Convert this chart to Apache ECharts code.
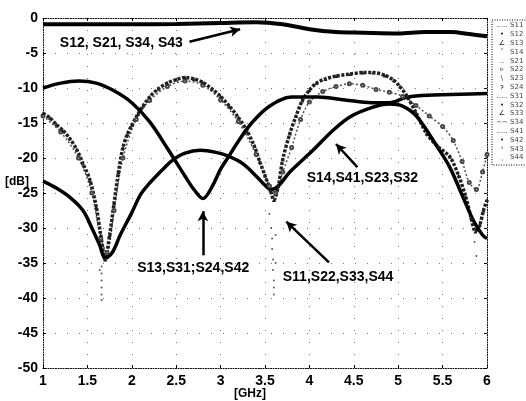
<!DOCTYPE html>
<html>
<head>
<meta charset="utf-8">
<script src="https://cdn.jsdelivr.net/npm/echarts@6/dist/echarts.min.js"></script>
<style>
html, body { margin: 0; padding: 0; background: #fff; }
#chart { width: 526px; height: 401px; }
</style>
</head>
<body>
<div id="chart"></div>
<script>
// S12, S21, S34, S43
var s12Freq = [1, 1.5, 2, 2.5, 3, 3.4, 3.7, 4.0, 4.3, 4.6, 5.0, 5.3, 5.6, 5.8, 6];
var s12Db = [-0.9, -0.9, -0.9, -0.85, -0.7, -0.6, -0.9, -1.6, -2.0, -2.1, -2.2, -2.0, -2.0, -2.3, -2.6];

// S13, S31, S24, S42
var s13Freq = [1, 1.2, 1.4, 1.6, 1.8, 2.0, 2.2, 2.4, 2.6, 2.7, 2.8, 2.9, 3.0, 3.1, 3.2, 3.35, 3.55, 3.8, 4.1, 4.4, 4.7, 4.9, 5.1, 5.4, 5.7, 6];
var s13Db = [-10.0, -9.3, -9.0, -9.3, -10.4, -12.1, -14.8, -18.6, -22.6, -24.5, -25.8, -24.2, -21.6, -19.6, -17.6, -15.0, -12.6, -11.3, -11.3, -11.7, -12.1, -12.1, -11.3, -11.0, -10.9, -10.8];

// S14, S41, S23, S32
var s14Freq = [1, 1.15, 1.3, 1.45, 1.55, 1.64, 1.7, 1.78, 1.87, 2.0, 2.1, 2.2, 2.35, 2.46, 2.6, 2.77, 2.95, 3.1, 3.25, 3.41, 3.5, 3.57, 3.65, 3.78, 4.04, 4.27, 4.46, 4.7, 4.9, 5.05, 5.21, 5.44, 5.58, 5.73, 5.85, 5.95, 6];
var s14Db = [-23.3, -24.3, -25.6, -27.5, -30, -32.5, -34.3, -33.5, -31, -27.8, -25.2, -23.6, -21.6, -20.3, -19.3, -18.9, -19.2, -19.8, -20.8, -22.7, -23.9, -24.5, -24, -22, -18.9, -16, -14.1, -12.8, -12.3, -12.6, -14.1, -18.4, -21.3, -25.6, -29, -31, -31.5];

// S11, S22, S33, S44 (gemessen, verrauscht)
var s11Freq = [1, 1.08, 1.15, 1.22, 1.3, 1.38, 1.45, 1.53, 1.6, 1.65, 1.7, 1.75, 1.8, 1.85, 1.9, 1.95, 2.0, 2.07, 2.13, 2.2, 2.3, 2.4, 2.5, 2.6, 2.7, 2.8, 2.9, 3.0, 3.1, 3.2, 3.3, 3.38, 3.44, 3.5, 3.56, 3.6, 3.65, 3.7, 3.78, 3.85, 3.92, 4.0, 4.08, 4.18, 4.3, 4.46, 4.6, 4.72, 4.85, 4.95, 5.02, 5.1, 5.2, 5.32, 5.45, 5.58, 5.68, 5.76, 5.82, 5.87, 5.92, 5.96, 6];
var s11Db = [-13.6, -14.3, -15.2, -16.0, -17.2, -18.8, -20.8, -23.2, -27, -31, -34.5, -31, -26.5, -22, -18.5, -16.6, -15.3, -13.7, -12.5, -11.3, -10.1, -9.3, -8.8, -8.5, -8.7, -9.2, -10.1, -11.2, -12.6, -14.2, -16.2, -18.3, -20.5, -22.5, -24.6, -26, -24, -20.2, -16.5, -14, -11.8, -10.3, -9.3, -8.7, -8.3, -8.0, -7.8, -7.8, -8.2, -8.9, -9.8, -11.2, -13.5, -16.5, -18.4, -19.8, -22.5, -25.5, -28.5, -30.5, -29.5, -27.5, -26];

var s22Freq = [1, 1.2, 1.4, 1.55, 1.65, 1.72, 1.8, 1.9, 2.05, 2.2, 2.4, 2.6, 2.8, 3.0, 3.2, 3.4, 3.55, 3.62, 3.7, 3.8, 3.9, 4.0, 4.15, 4.3, 4.45, 4.6, 4.75, 4.9, 5.05, 5.2, 5.35, 5.5, 5.62, 5.72, 5.8, 5.88, 5.95, 6];
var s22Db = [-14, -16.3, -20, -25, -31.5, -33.5, -27.5, -20, -14.5, -11.8, -9.8, -9.0, -9.6, -11.7, -14.8, -19.5, -24, -25, -22, -18.5, -14.5, -12, -10.5, -9.8, -9.4, -9.6, -10.2, -10.6, -11.2, -12.5, -14.0, -15.5, -17.5, -20.5, -23.5, -24.5, -22, -19.5];

// Ausreisser nach unten
var spikeFreq = [1.64, 1.66, 1.66, 1.66, 1.66, 1.66, 1.66, 3.55, 3.57, 3.58, 3.58, 3.59, 3.59, 3.6, 3.6, 3.6, 3.62, 3.62, 5.86, 5.88];
var spikeDb = [-36, -35.5, -36.5, -37.5, -38.5, -39.5, -40.3, -28, -30, -31.5, -33, -34.5, -36, -37.5, -38.5, -39.5, -31, -35, -32, -34];

var legendNames = ['S11', 'S12', 'S13', 'S14', 'S21', 'S22', 'S23', 'S24', 'S31', 'S32', 'S33', 'S34', 'S41', 'S42', 'S43', 'S44'];
var legendMarks = ['.....', '•', '∠', 'ˇ', '..', '▹', '\\', 'ɂ', '.....', '•', '∠', '~~', '.....', '•', 'ᵌ', 'ˏ'];

var noteText = ['S12, S21, S34, S43', 'S13,S31;S24,S42', 'S11,S22,S33,S44', 'S14,S41,S23,S32'];
var noteFreq = [1.19, 2.06, 3.70, 3.97];
var noteDb = [-3.6, -35.7, -37.0, -22.9];
var arrowFrom = [[2.65, -3.4], [2.80, -33.9], [4.22, -34.9], [4.54, -21.3]];
var arrowTo = [[3.22, -1.6], [2.80, -27.6], [3.74, -29.1], [4.30, -18.0]];

function zip(xs, ys) {
	var out = [];
	for (var i = 0; i < xs.length; ++i) out.push([xs[i], ys[i]]);
	return out;
}

var tickFont = '"Liberation Sans Narrow", "Liberation Sans", sans-serif';
var frameLine = { color: '#000', width: 1, type: [1, 1.5] };
var gridLine = { color: '#777', width: 1, type: [1, 11] };

var arrows = [];
for (var i = 0; i < arrowFrom.length; ++i) {
	arrows.push([{ coord: arrowFrom[i] }, { coord: arrowTo[i] }]);
}

var option = {
	animation: false,
	backgroundColor: '#fff',
	grid: { left: 43, right: 39, top: 18, bottom: 33 },
	xAxis: [{
		type: 'value', min: 1, max: 6, interval: 0.5, position: 'bottom',
		axisLine: { show: true, onZero: false, lineStyle: frameLine },
		axisTick: { show: true, inside: true, length: 3, lineStyle: { color: '#000' } },
		axisLabel: { color: '#000', fontFamily: tickFont, fontWeight: 'bold', fontSize: 14, margin: 6 },
		splitLine: { show: true, lineStyle: gridLine }
	}, {
		type: 'value', min: 1, max: 6, interval: 0.5, position: 'top',
		axisLine: { show: true, onZero: false, lineStyle: frameLine },
		axisTick: { show: true, inside: true, length: 3, lineStyle: { color: '#000' } },
		axisLabel: { show: false }, splitLine: { show: false }
	}],
	yAxis: [{
		type: 'value', min: -50, max: 0, interval: 5, position: 'left',
		axisLine: { show: true, onZero: false, lineStyle: frameLine },
		axisTick: { show: true, inside: true, length: 3, lineStyle: { color: '#000' } },
		axisLabel: { color: '#000', fontFamily: tickFont, fontWeight: 'bold', fontSize: 14, margin: 5 },
		splitLine: { show: true, lineStyle: gridLine }
	}, {
		type: 'value', min: -50, max: 0, interval: 5, position: 'right',
		axisLine: { show: true, onZero: false, lineStyle: frameLine },
		axisTick: { show: true, inside: true, length: 3, lineStyle: { color: '#000' } },
		axisLabel: { show: false }, splitLine: { show: false }
	}],
	series: [{
		name: 'S22', type: 'line', smooth: 0.3,
		data: zip(s22Freq, s22Db),
		symbol: 'emptyCircle', symbolSize: 3, showSymbol: true,
		itemStyle: { color: '#444', borderWidth: 1 },
		lineStyle: { color: '#555', width: 1.5, type: [2, 2] }
	}, {
		name: 'S11', type: 'line', smooth: 0.3,
		data: zip(s11Freq, s11Db),
		symbol: 'triangle', symbolSize: 4, showSymbol: true,
		itemStyle: { color: '#222' },
		lineStyle: { color: '#222', width: 3.5, type: [3, 1.5] }
	}, {
		name: 'spikes', type: 'scatter',
		data: zip(spikeFreq, spikeDb),
		symbol: 'circle', symbolSize: 2,
		itemStyle: { color: '#333' }
	}, {
		name: 'S13', type: 'line', smooth: 0.35, showSymbol: false,
		data: zip(s13Freq, s13Db),
		lineStyle: { color: '#000', width: 3.5 }
	}, {
		name: 'S14', type: 'line', smooth: 0.35, showSymbol: false,
		data: zip(s14Freq, s14Db),
		lineStyle: { color: '#000', width: 3.5 }
	}, {
		name: 'S12', type: 'line', smooth: 0.35, showSymbol: false,
		data: zip(s12Freq, s12Db),
		lineStyle: { color: '#000', width: 4 }
	}, {
		name: 'notes', type: 'line', data: [],
		markLine: {
			silent: true, symbol: ['none', 'arrow'], symbolSize: [8, 10],
			label: { show: false },
			lineStyle: { color: '#000', width: 2.5, type: 'solid' },
			data: arrows
		}
	}]
};

var chart = echarts.init(document.getElementById('chart'));
chart.setOption(option);

// Beschriftungen und Legende
var graphics = [];
for (var i = 0; i < noteText.length; ++i) {
	var p = chart.convertToPixel({ gridIndex: 0 }, [noteFreq[i], noteDb[i]]);
	graphics.push({
		type: 'text', x: p[0], y: p[1], z: 100,
		style: { text: noteText[i], font: 'bold 14px "Liberation Sans", Arial, sans-serif', fill: '#000', align: 'left', verticalAlign: 'middle' }
	});
}
graphics.push({
	type: 'text', x: 17, y: 182,
	style: { text: '[dB]', font: 'bold 12px ' + tickFont, fill: '#000', align: 'center', verticalAlign: 'middle' }
});
graphics.push({
	type: 'text', x: 250, y: 394,
	style: { text: '[GHz]', font: 'bold 12px ' + tickFont, fill: '#000', align: 'center', verticalAlign: 'middle' }
});
graphics.push({
	type: 'rect', shape: { x: 492, y: 20, width: 60, height: 145 },
	style: { fill: '#fff', stroke: '#000', lineWidth: 1, lineDash: [1, 1.5] }
});
for (var j = 0; j < legendNames.length; ++j) {
	graphics.push({
		type: 'text', x: 502, y: 25.5 + j * 8.8,
		style: { text: legendMarks[j], font: '7px "DejaVu Sans", sans-serif', fill: '#222', align: 'center', verticalAlign: 'middle' }
	});
	graphics.push({
		type: 'text', x: 510, y: 25.5 + j * 8.8,
		style: { text: legendNames[j], font: '7px "DejaVu Sans", sans-serif', fill: '#444', align: 'left', verticalAlign: 'middle' }
	});
}
chart.setOption({ graphic: graphics });
</script>
</body>
</html>
